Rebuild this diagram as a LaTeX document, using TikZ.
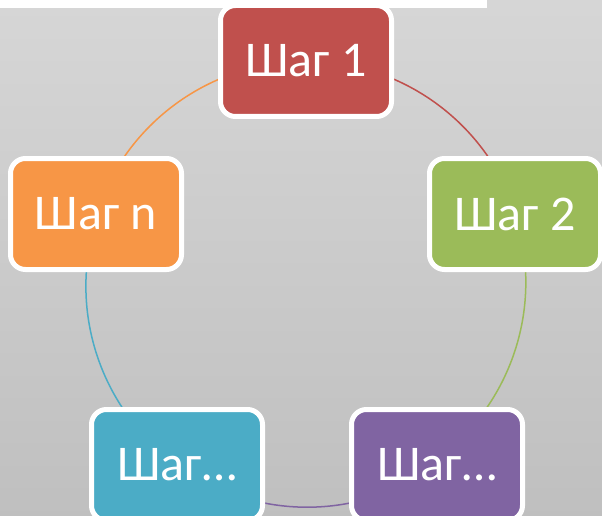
\documentclass[tikz,border=0pt]{standalone}
\usepackage{fontspec}
\setmainfont{Carlito}
\usetikzlibrary{backgrounds}
\definecolor{stepred}{HTML}{C0504D}
\definecolor{stepgreen}{HTML}{9BBB59}
\definecolor{steppurple}{HTML}{8064A2}
\definecolor{stepblue}{HTML}{4BACC6}
\definecolor{steporange}{HTML}{F79646}

\begin{document}
\begin{tikzpicture}[x=1pt, y=-1pt,
  stepbox/.style={draw=white, line width=5pt, rounded corners=15pt, minimum width=171pt, minimum height=111pt, inner sep=0pt, text=white, font=\fontsize{50}{60}\selectfont},
  ring/.style={line width=1.5pt}]
\useasboundingbox (0,0) rectangle (602,516);
\node[stepbox, fill=stepred] (s1) at (306,61) {Шаг 1};
\node[stepbox, fill=stepgreen] (s2) at (515,214) {Шаг 2};
\node[stepbox, fill=steppurple] (s3) at (437,465) {Шаг…};
\node[stepbox, fill=stepblue] (s4) at (177,465) {Шаг…};
\node[stepbox, fill=steporange] (sn) at (96,214) {Шаг n};
\begin{pgfonlayer}{background}
\shade[top color=black!16, bottom color=black!25] (0,0) rectangle (602,516);
\fill[white] (0,0) rectangle (487,8);
\draw[ring, stepred] (s1.center) arc[start angle=90, end angle=18, radius=221pt];
\draw[ring, stepgreen] (s2.center) arc[start angle=18, end angle=-54, radius=221pt];
\draw[ring, steppurple] (s3.center) arc[start angle=-54, end angle=-126, radius=221pt];
\draw[ring, stepblue] (s4.center) arc[start angle=-126, end angle=-198, radius=221pt];
\draw[ring, steporange] (sn.center) arc[start angle=162, end angle=90, radius=221pt];
\end{pgfonlayer}
\end{tikzpicture}
\end{document}
